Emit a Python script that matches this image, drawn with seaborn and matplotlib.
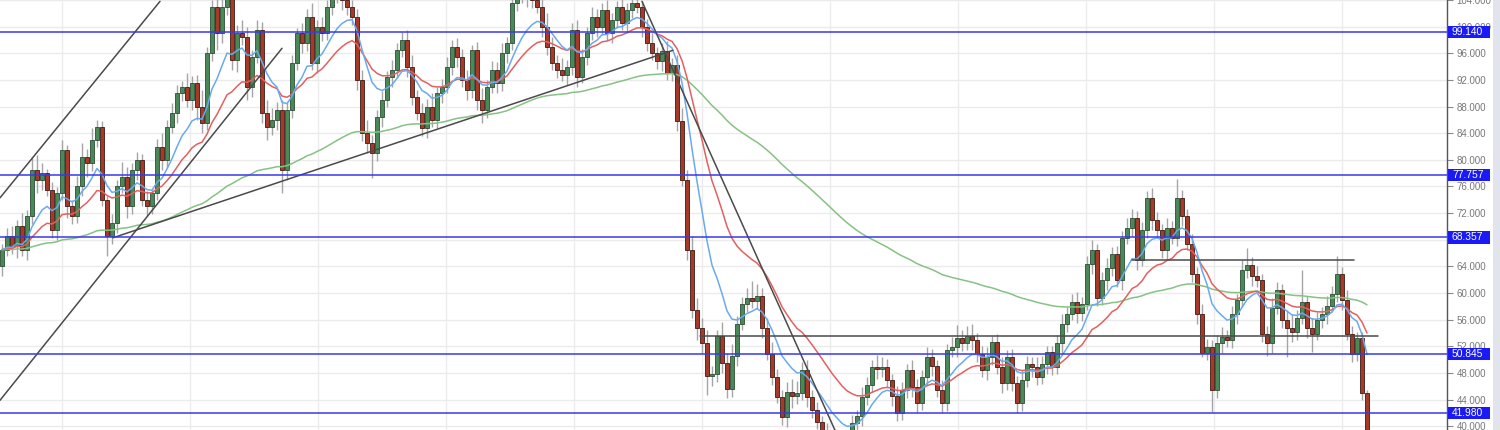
import numpy as np
import pandas as pd
import matplotlib
matplotlib.use("Agg")
import matplotlib.pyplot as plt
import matplotlib.transforms as mtransforms
from matplotlib.patches import Rectangle
import seaborn as sns

# ---------------- data ----------------
first_open = 64.0
closes = [
    66.5, 68.5, 67.0, 70.0, 66.5, 71.5, 78.5, 77.0, 78.0, 75.5,
    69.5, 75.0, 81.5, 73.0, 71.5, 76.0, 80.5, 79.5, 83.0, 85.0,
    74.0, 68.5, 70.5, 76.0, 77.5, 73.0, 78.5, 80.0, 74.0, 73.0,
    75.0, 82.0, 80.0, 85.0, 87.0, 90.0, 91.0, 89.0, 91.5, 88.0,
    85.5, 96.0, 103.0, 99.0, 103.0, 104.5, 95.0, 99.0, 98.5, 91.0,
    95.5, 99.5, 87.0, 85.0, 86.0, 87.5, 78.5, 87.5, 94.5, 99.0,
    97.5, 101.5, 94.5, 100.0, 99.0, 103.0, 104.5, 105.0, 104.0, 103.0,
    101.5, 92.0, 84.0, 82.5, 81.0, 86.5, 89.0, 92.5, 93.5, 96.5,
    98.0, 94.0, 89.5, 87.0, 84.8, 88.0, 86.0, 90.0, 91.0, 94.0,
    97.0, 95.5, 92.0, 90.5, 96.5, 89.0, 87.5, 91.0, 93.5, 91.5,
    96.0, 97.5, 103.5, 104.5, 105.0, 104.5, 104.0, 103.0, 100.0, 97.0,
    94.5, 93.5, 92.8, 94.0, 99.5, 92.5, 95.5, 99.0, 101.5, 100.0,
    102.5, 99.0, 101.0, 103.0, 100.5, 102.5, 103.5, 103.0, 100.0, 97.5,
    96.0, 94.8, 96.3, 93.0, 94.3, 85.8, 77.0, 66.5, 57.5, 54.8,
    52.5, 47.5, 47.8, 53.5, 49.5, 45.6, 50.5, 55.4, 58.4, 59.3,
    58.8, 59.5, 54.8, 50.9, 47.4, 44.4, 41.4, 45.1, 44.6, 45.0,
    48.4, 44.4, 42.4, 40.6, 39.5, 38.0, 37.0, 37.5, 36.8, 38.0,
    40.5, 41.5, 44.4, 46.2, 48.9, 48.6, 48.9, 46.9, 44.5, 42.0,
    45.5, 48.4, 45.9, 43.5, 47.4, 50.4, 49.0, 45.4, 43.5, 51.4,
    51.9, 53.2, 52.5, 53.6, 53.0, 50.9, 48.4, 50.4, 52.6, 48.9,
    46.5, 50.4, 46.5, 43.5, 46.9, 49.4, 48.9, 47.4, 49.4, 51.1,
    48.9, 52.5, 55.4, 56.9, 58.6, 57.0, 58.4, 64.4, 66.4, 59.2,
    61.9, 63.7, 65.9, 61.9, 68.3, 69.8, 71.3, 65.0, 69.4, 74.3,
    70.9, 69.4, 66.4, 69.8, 68.3, 74.3, 71.6, 67.4, 62.9, 56.9,
    51.0, 51.9, 45.4, 52.5, 53.4, 52.9, 56.9, 58.9, 63.4, 64.2,
    62.6, 61.9, 53.9, 52.5, 57.8, 60.4, 55.9, 54.8, 54.2, 56.3,
    58.6, 54.8, 53.9, 55.9, 56.9, 58.1, 59.9, 62.9, 58.9, 53.9,
    50.8, 53.2, 45.0, 37.5,
]
wick_up = [
    0.8, 1.2, 1.5, 0.9, 2.0, 1.0, 1.8, 2.2, 1.5, 0.7,
    1.2, 0.9, 1.5, 0.8, 1.0, 1.6, 2.0, 1.2, 1.8, 1.0,
    0.8, 0.6, 1.4, 1.0, 2.2, 1.5, 1.0, 1.2, 0.9, 1.3,
    0.8, 1.1, 2.0, 1.0, 1.5, 1.2, 0.9, 2.0, 1.1, 1.3,
    2.5, 1.0, 1.0, 2.0, 1.5, 1.0, 2.5, 1.2, 2.0, 1.5,
    1.0, 1.5, 1.2, 2.0, 1.8, 1.2, 1.5, 1.0, 1.2, 0.8,
    1.5, 1.2, 2.0, 1.0, 1.5, 1.0, 0.8, 1.0, 1.2, 1.5,
    1.0, 1.2, 1.5, 2.0, 1.2, 1.0, 1.3, 0.8, 1.5, 1.0,
    1.2, 1.5, 1.8, 1.0, 1.5, 1.2, 2.0, 1.0, 1.2, 1.5,
    1.0, 1.3, 1.2, 1.5, 0.8, 1.2, 1.8, 1.0, 1.4, 1.2,
    1.5, 1.0, 0.8, 1.0, 1.2, 1.0, 1.5, 1.0, 1.2, 2.0,
    1.5, 1.2, 1.8, 1.0, 1.0, 1.5, 1.2, 1.0, 1.5, 1.2,
    1.0, 1.5, 1.0, 0.8, 1.5, 1.0, 1.2, 1.5, 0.8, 1.2,
    1.5, 1.0, 1.2, 1.5, 1.0, 1.5, 2.0, 1.5, 2.0, 1.8,
    1.5, 2.0, 1.2, 1.0, 2.2, 1.5, 1.8, 1.2, 1.0, 1.5,
    2.5, 1.8, 1.2, 1.5, 1.8, 1.2, 1.0, 1.5, 2.0, 1.8,
    1.2, 1.5, 1.0, 1.2, 1.0, 1.0, 1.0, 1.2, 1.0, 1.5,
    1.2, 1.0, 1.5, 1.2, 1.0, 1.8, 1.5, 1.2, 1.0, 1.5,
    1.2, 1.0, 1.5, 1.2, 1.0, 1.5, 1.2, 1.0, 1.5, 1.0,
    1.5, 2.0, 1.2, 1.5, 1.8, 1.0, 1.2, 1.5, 1.0, 1.2,
    1.5, 1.0, 1.2, 1.0, 1.5, 1.2, 1.0, 1.5, 1.2, 1.0,
    1.0, 1.2, 1.5, 1.0, 1.2, 1.5, 1.0, 1.2, 1.5, 1.0,
    1.2, 1.5, 1.0, 1.2, 1.0, 1.5, 1.3, 1.0, 1.2, 1.0,
    1.5, 1.2, 1.0, 1.5, 1.0, 2.8, 1.2, 1.0, 1.5, 1.0,
    1.5, 1.2, 1.0, 1.2, 1.5, 1.0, 1.2, 1.0, 1.5, 2.5,
    1.2, 1.5, 1.0, 1.2, 1.5, 1.2, 1.0, 1.5, 2.0, 1.2,
    4.8, 1.0, 1.5, 1.2, 1.0, 1.5, 1.2, 2.7, 1.0, 1.5,
    1.2, 1.0, 1.0, 0.5,
]
wick_dn = [
    1.5, 1.0, 1.2, 1.8, 1.0, 1.5, 1.2, 2.0, 1.5, 1.0,
    1.2, 1.5, 1.0, 1.8, 1.2, 1.0, 1.5, 2.0, 1.2, 1.0,
    1.0, 2.9, 1.2, 1.5, 1.0, 1.8, 1.2, 1.5, 1.0, 1.5,
    1.2, 1.0, 1.5, 1.2, 1.0, 1.5, 1.2, 1.0, 1.5, 2.0,
    1.5, 1.0, 1.2, 2.5, 1.5, 1.2, 1.5, 1.8, 1.2, 2.0,
    1.5, 1.0, 1.5, 2.0, 1.2, 1.5, 3.5, 1.5, 1.2, 1.0,
    1.5, 1.2, 1.0, 1.5, 1.2, 1.0, 1.2, 1.0, 1.5, 1.2,
    1.2, 1.5, 1.2, 1.5, 3.7, 1.2, 1.5, 1.0, 1.5, 1.2,
    1.0, 1.5, 1.2, 1.0, 1.2, 1.5, 1.0, 1.2, 1.5, 1.0,
    1.2, 1.5, 1.0, 1.5, 1.2, 1.5, 2.0, 1.2, 1.0, 1.5,
    1.2, 1.5, 1.0, 1.2, 1.0, 1.5, 1.2, 1.0, 1.5, 1.2,
    1.0, 1.2, 1.0, 1.5, 1.2, 1.5, 1.0, 1.2, 1.0, 1.5,
    1.2, 1.0, 1.5, 1.2, 1.0, 1.5, 1.2, 1.0, 1.5, 1.2,
    1.0, 1.2, 1.5, 1.0, 1.2, 1.5, 1.0, 1.5, 1.2, 1.8,
    1.5, 2.8, 1.5, 1.2, 1.5, 1.4, 1.2, 1.5, 1.0, 1.2,
    1.0, 1.2, 1.5, 1.0, 1.2, 0.9, 1.2, 1.5, 1.8, 1.2,
    1.0, 1.5, 1.2, 1.0, 1.0, 1.0, 1.0, 1.0, 1.0, 1.0,
    1.2, 1.0, 1.5, 1.2, 1.0, 1.5, 1.2, 1.0, 1.5, 1.2,
    1.0, 1.2, 1.5, 1.5, 1.0, 1.2, 1.5, 1.0, 1.5, 1.2,
    1.0, 1.5, 1.2, 1.0, 1.5, 1.2, 1.0, 1.5, 1.2, 1.0,
    1.5, 1.0, 1.2, 1.5, 1.2, 1.0, 1.5, 1.2, 1.0, 1.5,
    1.2, 1.0, 1.5, 1.2, 1.0, 1.5, 1.2, 1.0, 1.5, 1.2,
    1.0, 1.5, 1.2, 1.0, 1.5, 1.0, 1.2, 1.5, 1.0, 1.2,
    1.5, 1.0, 1.2, 1.5, 1.0, 1.2, 1.5, 1.0, 1.2, 1.5,
    0.6, 1.0, 3.3, 1.2, 1.5, 1.0, 1.2, 1.5, 1.0, 1.2,
    1.5, 1.0, 1.2, 1.9, 1.5, 1.0, 1.2, 4.4, 1.5, 1.2,
    1.0, 1.5, 2.8, 1.0, 1.2, 1.5, 1.0, 1.2, 1.5, 1.0,
    1.2, 1.0, 1.0, 1.0,
]
level_lines = [99.140, 77.757, 68.357, 50.845, 41.980]
# drawn trend lines: ((bar index, price), (bar index, price))
trend_lines = [
    ((-0.4, 74.3), (31.6, 103.8)),
    ((-0.4, 43.9), (56.0, 96.75)),
    ((22.2, 68.3), (134.2, 96.45)),
    ((128.0, 103.8), (166.6, 39.4)),
    ((139.6, 53.6), (275.2, 53.6)),
    ((226.0, 65.0), (270.4, 65.0)),
]
y_ticks = list(range(40, 105, 4))

# ---------------- build frame ----------------
sns.set_theme(style="white")
plt.rcParams['font.family'] = ['Liberation Sans', 'DejaVu Sans']

n = len(closes)
idx = np.arange(n)
c = np.array(closes)
o = np.array([first_open] + closes[:-1])
hi = np.maximum(o, c) + np.array(wick_up)
lo = np.minimum(o, c) - np.array(wick_dn)
df = pd.DataFrame({"i": idx, "open": o, "close": c, "high": hi, "low": lo})
df["ma_fast"] = df["close"].ewm(span=10, adjust=False).mean()
df["ma_mid"] = df["close"].ewm(span=21, adjust=False).mean()
df["ma_slow"] = df["close"].ewm(span=100, adjust=False).mean()

W, H = 1500, 430
fig = plt.figure(figsize=(W / 100, H / 100), dpi=100)
fig.patch.set_facecolor("white")
ax = fig.add_axes([0, 0, 1447 / W, 1])
ax.set_facecolor("white")
ax.set_xlim(-0.4, 289)
ax.set_ylim(39.44, 103.78)

# grid
ax.set_yticks(y_ticks)
ax.set_yticklabels([f"{v:.3f}" for v in y_ticks])
ax.set_xticks(12 + 25.6 * np.arange(11))
ax.set_xticklabels([])
ax.grid(True, color="#ebebeb", lw=1)
ax.set_axisbelow(True)
ax.yaxis.tick_right()
ax.tick_params(axis="y", length=4, width=0.8, color="#888888", pad=3,
               labelsize=7.0, labelcolor="#777777", right=True, left=False)
ax.tick_params(axis="x", length=0)
for s in ["top", "left", "bottom"]:
    ax.spines[s].set_visible(False)
ax.spines["right"].set_color("#555555")
ax.spines["right"].set_linewidth(1)

# candles
up = df["close"] >= df["open"]
ax.vlines(df["i"], df["low"], df["high"], color="#a5a5a5", lw=1, zorder=2)
body = np.maximum(np.abs(df["close"] - df["open"]), 0.2)
ax.bar(df["i"], body, bottom=np.minimum(df["open"], df["close"]), width=0.62,
       color=np.where(up, "#4a8858", "#a63a28"),
       edgecolor=np.where(up, "#2b4d33", "#3d1a12"), lw=0.6, zorder=3)

# moving averages
sns.lineplot(data=df, x="i", y="ma_slow", ax=ax, color="#86c283", lw=1.1, zorder=3.5)
sns.lineplot(data=df, x="i", y="ma_mid", ax=ax, color="#e46060", lw=1.1, zorder=3.6)
sns.lineplot(data=df, x="i", y="ma_fast", ax=ax, color="#6aaaee", lw=1.1, zorder=3.7)

# trend lines
for (x0, y0), (x1, y1) in trend_lines:
    ax.plot([x0, x1], [y0, y1], color="#4a4a4a", lw=1.1, zorder=4)

# level lines and their labels
trans = mtransforms.blended_transform_factory(fig.transFigure, ax.transData)
for v in level_lines:
    ax.axhline(v, color="#3838f0", lw=1.1, zorder=4)
    ax.add_patch(Rectangle((1448 / W, v - 0.92), 42 / W, 1.84, transform=trans,
                           facecolor="#1a1af5", edgecolor="none", clip_on=False, zorder=6))
    ax.text(1452 / W, v, f"{v:.3f}", transform=trans, ha="left", va="center",
            color="white", fontsize=7.4, zorder=7, clip_on=False)

ax.set_xlabel("")
ax.set_ylabel("")

fig.add_artist(Rectangle((1493 / W, 0), 7 / W, 1, transform=fig.transFigure,
                         facecolor="#e1e4ec", edgecolor="none"))

fig.savefig("out.png", dpi=100)
